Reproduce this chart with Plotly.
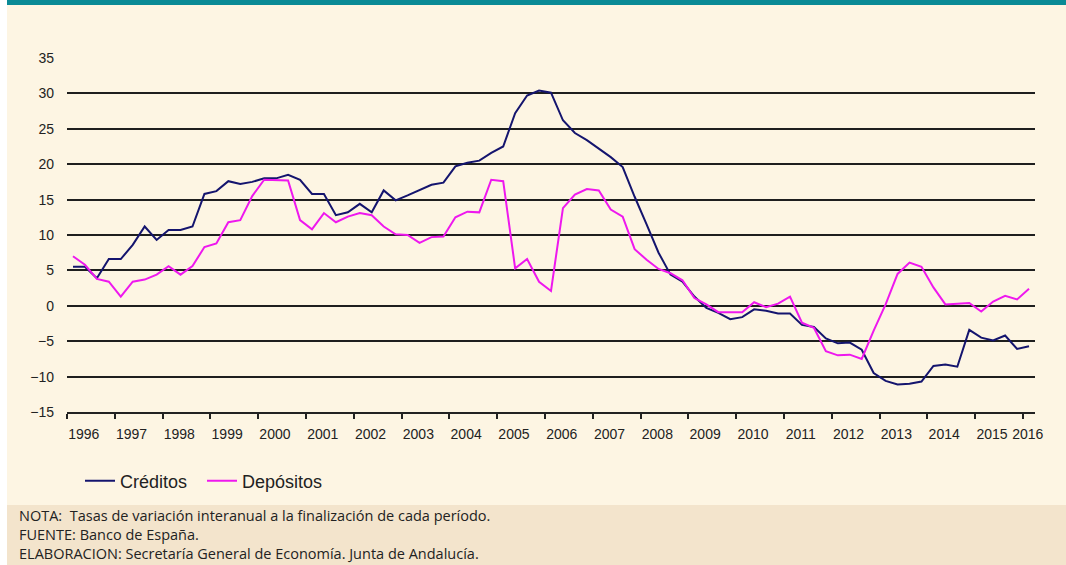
import plotly.graph_objects as go

# Quarterly series, 1996 Q1 .. 2016 Q1 (year-on-year % change)
years = list(range(1996, 2017))
creditos = [
    5.5, 5.5, 3.9, 6.6,        # 1996
    6.6, 8.6, 11.2, 9.3,       # 1997
    10.7, 10.7, 11.2, 15.8,    # 1998
    16.2, 17.6, 17.2, 17.5,    # 1999
    18.0, 18.0, 18.5, 17.8,    # 2000
    15.8, 15.8, 12.8, 13.2,    # 2001
    14.4, 13.2, 16.3, 14.9,    # 2002
    15.6, 16.3, 17.1, 17.4,    # 2003
    19.7, 20.2, 20.5, 21.6,    # 2004
    22.5, 27.2, 29.7, 30.4,    # 2005
    30.1, 26.2, 24.4, 23.4,    # 2006
    22.2, 21.0, 19.6, 15.4,    # 2007
    11.5, 7.5, 4.4, 3.4,       # 2008
    1.3, -0.3, -1.0, -1.9,     # 2009
    -1.6, -0.5, -0.7, -1.1,    # 2010
    -1.1, -2.7, -3.0, -4.6,    # 2011
    -5.3, -5.2, -6.2, -9.5,    # 2012
    -10.6, -11.1, -11.0, -10.7,  # 2013
    -8.5, -8.3, -8.6, -3.4,    # 2014
    -4.5, -4.9, -4.2, -6.1,    # 2015
    -5.7,                      # 2016
]
depositos = [
    7.0, 5.8, 3.8, 3.4,
    1.3, 3.4, 3.7, 4.4,
    5.6, 4.4, 5.6, 8.3,
    8.8, 11.8, 12.1, 15.5,
    17.8, 17.7, 17.7, 12.1,
    10.8, 13.1, 11.8, 12.6,
    13.1, 12.8, 11.2, 10.1,
    10.0, 8.9, 9.7, 9.8,
    12.5, 13.3, 13.2, 17.8,
    17.6, 5.3, 6.6, 3.4,
    2.1, 13.8, 15.7, 16.5,
    16.3, 13.6, 12.6, 8.0,
    6.5, 5.2, 4.6, 3.6,
    1.1, 0.2, -0.9, -0.9,
    -0.9, 0.5, -0.2, 0.3,
    1.3, -2.4, -3.1, -6.4,
    -7.0, -6.9, -7.5, -3.5,
    0.2, 4.5, 6.1, 5.5,
    2.6, 0.2, 0.3, 0.4,
    -0.8, 0.6, 1.4, 0.9,
    2.4,
]
y_ticks = list(range(-15, 40, 5))
notes = [
    "NOTA:  Tasas de variación interanual a la finalización de cada período.",
    "FUENTE: Banco de España.",
    "ELABORACION: Secretaría General de Economía. Junta de Andalucía.",
]

n = len(creditos)
idx = list(range(n))

W, H = 1066, 565
ML, MR, MT, MB = 67, 31, 58, 153
PW, PH = W - ML - MR, H - MT - MB


def px(x):
    return (x - ML) / PW


def py(y):
    return (H - MB - y) / PH


CREAM = "#FDF5E3"
FOOT = "#F3E4CC"
TEAL = "#0A8A96"
NAVY = "#14146E"
MAGENTA = "#EE18EE"
INK = "#222222"

fig = go.Figure()
fig.add_trace(go.Scatter(x=idx, y=creditos, mode="lines", name="Créditos",
                         line=dict(color=NAVY, width=2)))
fig.add_trace(go.Scatter(x=idx, y=depositos, mode="lines", name="Depósitos",
                         line=dict(color=MAGENTA, width=2)))

# year boundaries on the category axis; labels sit just right of each tick
bounds = [4 * k - 0.5 for k in range(len(years))]
label_pos = [b + 1.4 for b in bounds]
label_pos[-1] = bounds[-1] + 0.4

fig.update_layout(
    width=W, height=H,
    margin=dict(l=ML, r=MR, t=MT, b=MB),
    paper_bgcolor=CREAM, plot_bgcolor="rgba(0,0,0,0)",
    font=dict(family="Liberation Sans, Arial, sans-serif", size=14, color=INK),
    showlegend=True,
    legend=dict(orientation="h", x=px(80), y=py(481), xanchor="left", yanchor="middle",
                bgcolor="rgba(0,0,0,0)", font=dict(size=18, color=INK),
                itemwidth=30, entrywidth=77, tracegroupgap=0),
    xaxis=dict(range=[-0.5, n - 0.5], tickvals=label_pos, ticktext=[str(y) for y in years],
               ticks="", showgrid=False, zeroline=False, showline=False,
               ticklabelstandoff=12, tickfont=dict(size=14, color=INK)),
    xaxis2=dict(range=[-0.5, n - 0.5], overlaying="x", side="bottom", anchor="y",
                tickvals=bounds, showticklabels=False, ticks="outside", ticklen=5,
                tickwidth=1.5, tickcolor=INK, showline=True, linecolor=INK,
                linewidth=1.6, showgrid=False, zeroline=False),
    yaxis=dict(range=[-15, 35], tickvals=y_ticks, showgrid=True, gridcolor="#1e1e1e",
               gridwidth=1.6, zeroline=False, showline=False, ticks="",
               ticklabelstandoff=12, tickfont=dict(size=14, color=INK)),
    shapes=[
        dict(type="rect", xref="paper", yref="paper", x0=px(0), x1=px(7), y0=py(H), y1=py(0),
             fillcolor="white", line=dict(width=0), layer="below"),
        dict(type="rect", xref="paper", yref="paper", x0=px(7), x1=px(W), y0=py(5), y1=py(0),
             fillcolor=TEAL, line=dict(width=0), layer="below"),
        dict(type="rect", xref="paper", yref="paper", x0=px(7), x1=px(W), y0=py(H), y1=py(505),
             fillcolor=FOOT, line=dict(width=0), layer="below"),
    ],
)
# invisible trace so the tick-mark axis is drawn
fig.add_trace(go.Scatter(x=[0], y=[None], xaxis="x2", showlegend=False, hoverinfo="skip"))

# footer notes as one left-aligned block
fig.add_annotation(text="<br>".join(notes), xref="paper", yref="paper", x=px(17), y=py(534.5),
                   xanchor="left", yanchor="middle", align="left", showarrow=False,
                   font=dict(family="Open Sans, sans-serif", size=14.5, color=INK))

fig.write_html("out.html")
